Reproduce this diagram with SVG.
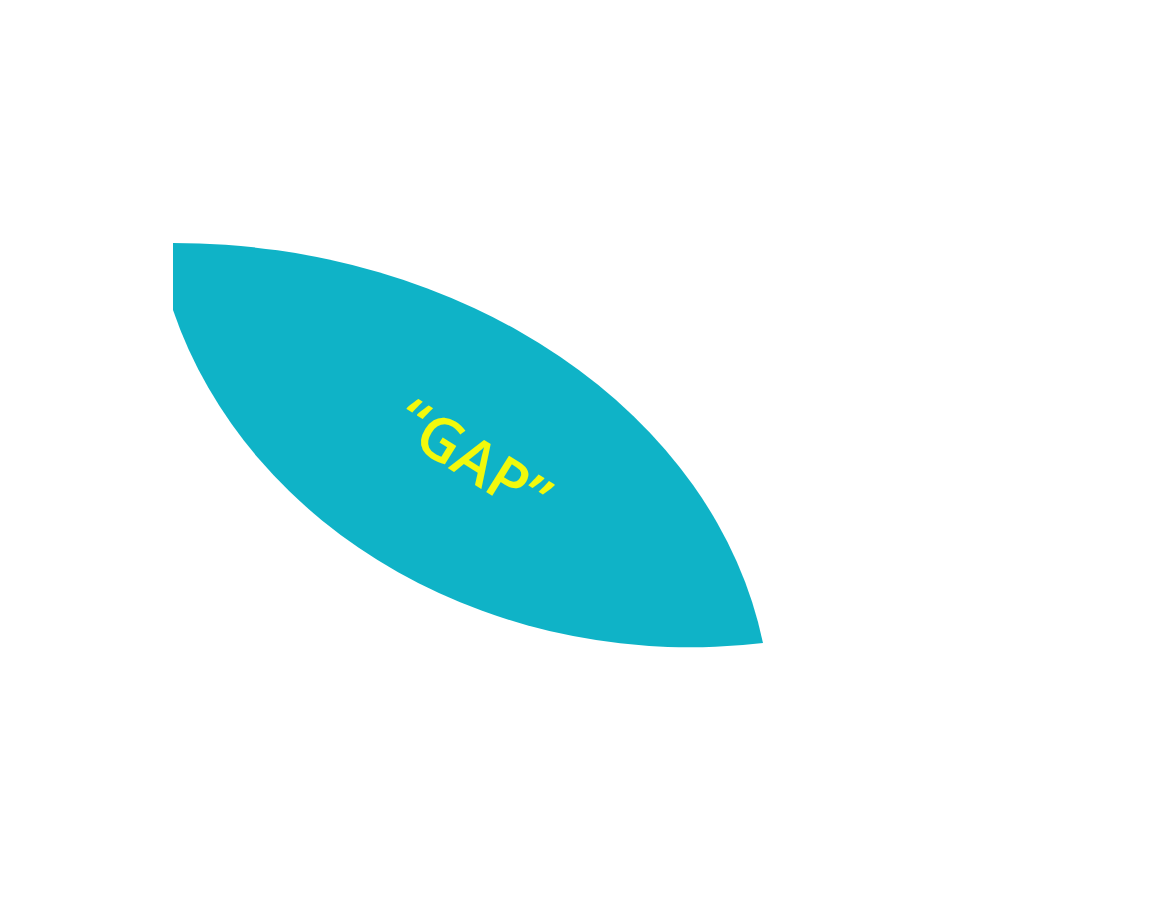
<svg xmlns="http://www.w3.org/2000/svg" width="1168" height="916" viewBox="0 0 1168 916">
  <style>
    .lens { fill: #0fb3c7; }
    .label { font-family: "Open Sans", "DejaVu Sans", sans-serif; font-size: 60px; font-weight: 600; fill: #f2f90c; text-anchor: middle; }
  </style>
  <rect width="1168" height="916" fill="#ffffff"/>
  <g id="gap">
    <path class="lens" d="M173,243 A598,478.3 0 0,1 763,643 A539.6,472.3 0 0,1 173,310 Z"/>
    <text class="label" transform="translate(473,459) rotate(32)" y="21">“GAP”</text>
  </g>
</svg>
